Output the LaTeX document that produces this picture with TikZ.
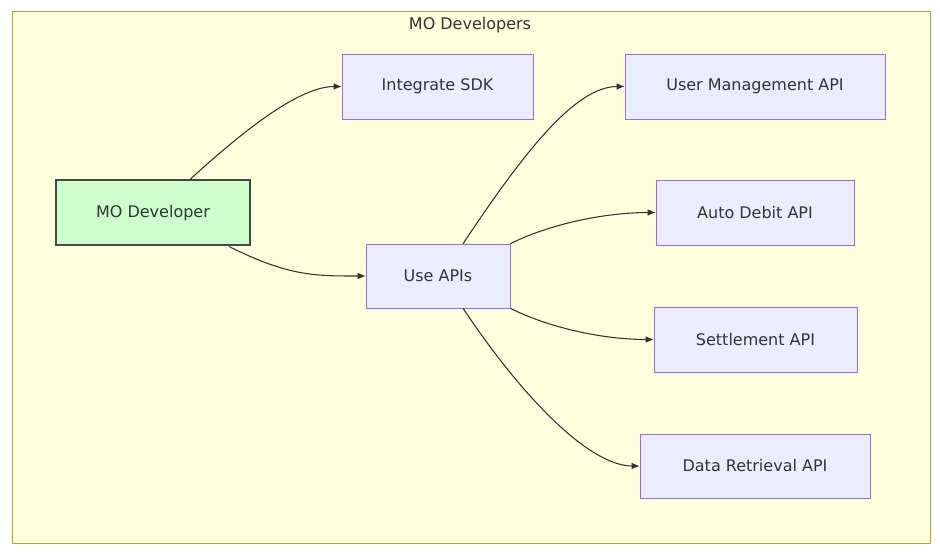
\documentclass[tikz,border=0pt]{standalone}
\usepackage{fontspec}
\setmainfont{DejaVu Sans}
\usetikzlibrary{positioning,arrows.meta}
\definecolor{boxfill}{HTML}{ECECFF}
\definecolor{boxline}{HTML}{9370DB}
\definecolor{grpfill}{HTML}{FFFFDE}
\definecolor{grpline}{HTML}{AAAA33}
\definecolor{devfill}{HTML}{CCFFCC}
\definecolor{edge}{HTML}{333333}
\tikzset{
  api/.style={draw=boxline, fill=boxfill, rectangle, text=edge, font=\fontsize{12}{14}\selectfont, inner sep=0pt},
  arrow/.style={edge, line width=0.8pt, -{Latex[length=6pt,width=5pt]}}
}
\begin{document}
\begin{tikzpicture}[x=0.75pt,y=0.75pt]
		\useasboundingbox (0,0) rectangle (940,-552);
		% group
		\draw[grpline, fill=grpfill] (12,-11) rectangle (930,-543);
		\node[text=edge, font=\fontsize{12}{14}\selectfont] (title) at (470,-25) {MO Developers};
		% nodes
		\node[api, draw=edge!90, line width=1.5pt, fill=devfill, minimum width=145.5pt, minimum height=48.75pt] (dev) at (153,-213) {MO Developer};
		\node[api, minimum width=143.25pt, minimum height=48.75pt] (sdk) at (437.5,-86.5) {Integrate SDK};
		\node[api, minimum width=108pt, minimum height=48pt] (apis) at (438,-276) {Use APIs};
		\node[api, minimum width=195pt, minimum height=48.75pt] (user) at (755,-86.5) {User Management API};
		\node[api, minimum width=148.5pt, minimum height=48.75pt] (debit) at (755,-212.5) {Auto Debit API};
		\node[api, minimum width=152.25pt, minimum height=48.75pt] (settle) at (755.5,-339.5) {Settlement API};
		\node[api, minimum width=172.5pt, minimum height=48pt] (data) at (755,-466) {Data Retrieval API};
		% connectors
		\draw[arrow] ([xshift=27.75pt]dev.north) .. controls +(60,55) and +(-40,0) .. (sdk.west);
		\draw[arrow] ([xshift=57pt]dev.south) .. controls +(60,-30) and +(-50,0) .. (apis.west);
		\draw[arrow] ([xshift=18.75pt]apis.north) .. controls +(60,90) and +(-50,0) .. (user.west);
		\draw[arrow] (apis.north east) .. controls +(40,20) and +(-50,0) .. (debit.west);
		\draw[arrow] (apis.south east) .. controls +(40,-20) and +(-50,0) .. (settle.west);
		\draw[arrow] ([xshift=18.75pt]apis.south) .. controls +(60,-90) and +(-50,0) .. (data.west);
\end{tikzpicture}
\end{document}
